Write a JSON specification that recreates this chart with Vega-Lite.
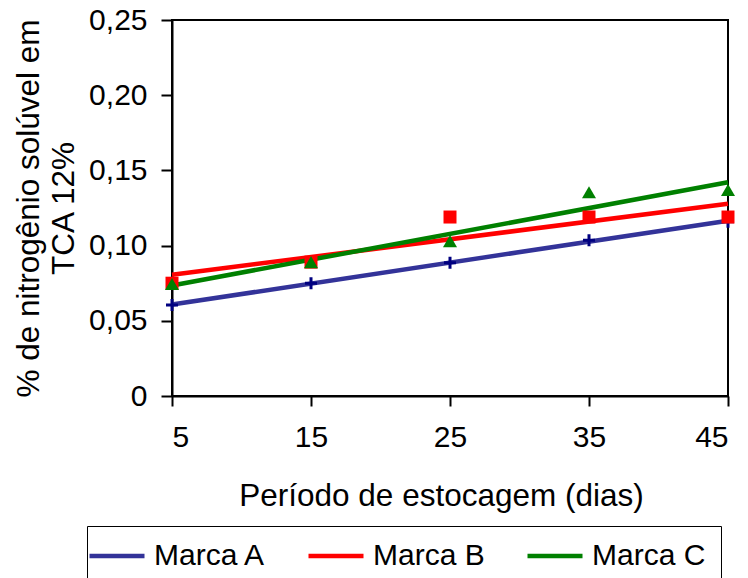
{
  "$schema": "https://vega.github.io/schema/vega-lite/v6.json",
  "width": 556,
  "height": 376,
  "autosize": {"type": "none"},
  "padding": {"left": 172, "top": 20, "right": 20, "bottom": 182},
  "background": "white",
  "config": {
    "font": "Liberation Sans",
    "view": {"stroke": "black", "strokeWidth": 2},
    "axis": {"grid": false, "domainColor": "black", "domainWidth": 2, "tickColor": "black", "tickWidth": 2, "labelColor": "black", "titleColor": "black", "labelFont": "Liberation Sans", "titleFont": "Liberation Sans"}
  },
  "data": {
    "values": [
      {"dia": 5, "marca": "Marca A", "valor": 0.0605},
      {"dia": 15, "marca": "Marca A", "valor": 0.0749},
      {"dia": 25, "marca": "Marca A", "valor": 0.0886},
      {"dia": 35, "marca": "Marca A", "valor": 0.1035},
      {"dia": 45, "marca": "Marca A", "valor": 0.1159},
      {"dia": 5, "marca": "Marca B", "valor": 0.075},
      {"dia": 15, "marca": "Marca B", "valor": 0.089},
      {"dia": 25, "marca": "Marca B", "valor": 0.119},
      {"dia": 35, "marca": "Marca B", "valor": 0.119},
      {"dia": 45, "marca": "Marca B", "valor": 0.119},
      {"dia": 5, "marca": "Marca C", "valor": 0.0745},
      {"dia": 15, "marca": "Marca C", "valor": 0.089},
      {"dia": 25, "marca": "Marca C", "valor": 0.103},
      {"dia": 35, "marca": "Marca C", "valor": 0.1355},
      {"dia": 45, "marca": "Marca C", "valor": 0.137}
    ]
  },
  "encoding": {
    "x": {
      "field": "dia", "type": "quantitative",
      "scale": {"domain": [5, 45], "nice": false, "zero": false},
      "axis": {"values": [5, 15, 25, 35, 45], "tickSize": 10, "labelPadding": 16, "labelFontSize": 30, "title": "Período de estocagem (dias)", "titleFontSize": 31.5, "titleFontWeight": "normal", "titlePadding": 28, "titleX": 269}
    },
    "y": {
      "field": "valor", "type": "quantitative",
      "scale": {"domain": [0, 0.25], "nice": false},
      "axis": {"values": [0, 0.05, 0.1, 0.15, 0.2, 0.25], "tickSize": 11, "labelPadding": 14, "labelFontSize": 30, "labelExpr": "datum.value == 0 ? '0' : replace(format(datum.value, '.2f'), '.', ',')", "title": ["% de nitrogênio solúvel em", "TCA 12%"], "titleFontSize": 31.5, "titleFontWeight": "normal", "titleLineHeight": 35, "titlePadding": 8}
    }
  },
  "layer": [
    {
      "transform": [{"regression": "valor", "on": "dia", "groupby": ["marca"], "extent": [5, 45]}],
      "mark": {"type": "line", "strokeWidth": 4.5},
      "encoding": {
        "color": {"field": "marca", "type": "nominal", "scale": {"domain": ["Marca A", "Marca B", "Marca C"], "range": ["#333399", "#FF0000", "#008000"]},
          "legend": {"title": null, "orient": "none", "legendX": -85, "legendY": 506, "direction": "horizontal", "strokeColor": "black", "padding": 15, "symbolType": "M-2.5,0H2.5", "symbolSize": 484, "symbolStrokeWidth": 4.5, "labelFontSize": 30, "labelColor": "black", "labelOffset": 22, "columnPadding": 33}}
      }
    },
    {
      "transform": [{"filter": "datum.marca == 'Marca A'"}],
      "mark": {"type": "point", "shape": "M0,-1V1M-1,0H1", "size": 144, "filled": false, "stroke": "#000080", "strokeWidth": 3, "opacity": 1}
    },
    {
      "transform": [{"filter": "datum.marca == 'Marca B'"}],
      "mark": {"type": "square", "size": 169, "filled": true, "color": "#FF0000", "opacity": 1}
    },
    {
      "transform": [{"filter": "datum.marca == 'Marca C'"}],
      "mark": {"type": "point", "shape": "triangle-up", "size": 196, "filled": true, "color": "#008000", "opacity": 1}
    }
  ]
}
